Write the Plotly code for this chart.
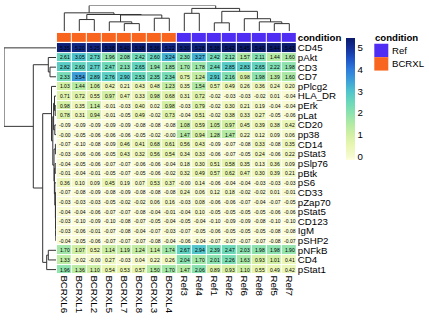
import plotly.graph_objects as go

W, H = 429, 327
FONT = "Liberation Sans, Arial, sans-serif"

samples = ["BCRXL6", "BCRXL1", "BCRXL2", "BCRXL5", "BCRXL7", "BCRXL8", "BCRXL3", "BCRXL4",
           "Ref3", "Ref4", "Ref1", "Ref2", "Ref6", "Ref8", "Ref5", "Ref7"]
condition = ["BCRXL"] * 8 + ["Ref"] * 8
cond_colors = {"Ref": "#502DF2", "BCRXL": "#F8651F"}

markers = ["CD45", "pAkt", "CD3", "CD7", "pPlcg2", "HLA_DR", "pErk", "pLat", "CD20", "pp38",
           "CD14", "pStat3", "pSlp76", "pBtk", "pS6", "CD33", "pZap70", "pStat5", "CD123",
           "IgM", "pSHP2", "pNFkB", "CD4", "pStat1"]

CD45 = [5.35, 5.20, 5.25, 5.38, 5.40, 5.38, 5.36, 5.22, 5.30, 5.28, 5.38, 5.42, 5.45, 5.40, 5.44, 5.43]
pAkt = [2.61, 3.05, 2.73, 1.96, 2.08, 2.42, 2.60, 3.24, 2.30, 3.27, 2.42, 2.12, 1.57, 2.11, 1.44, 1.60]
CD3 = [2.82, 2.60, 2.77, 2.47, 2.13, 2.65, 1.94, 1.85, 1.70, 1.78, 2.44, 2.85, 2.83, 2.65, 2.22, 1.98]
CD7 = [2.33, 3.54, 2.89, 2.76, 2.90, 2.53, 2.35, 2.34, 0.75, 1.24, 2.91, 2.16, 0.98, 1.98, 1.39, 1.60]
pPlcg2 = [1.03, 1.44, 1.06, 0.42, 0.21, 0.43, 0.48, 1.23, 0.35, 1.54, 0.57, 0.49, 0.26, 0.36, 0.24, 0.20]
HLA_DR = [0.71, 0.72, 0.55, 0.97, 0.47, 0.33, 0.98, 0.68, 0.31, 0.72, -0.02, -0.03, -0.03, -0.02, 0.01, -0.04]
pErk = [0.98, 0.35, 1.14, -0.01, -0.03, 0.40, 0.02, 0.98, -0.03, 0.79, -0.02, 0.30, 0.21, 0.19, -0.04, -0.04]
pLat = [0.78, 0.31, 0.94, -0.01, -0.05, 0.49, -0.02, 0.73, -0.04, 0.51, -0.02, 0.38, 0.33, 0.27, -0.05, -0.06]
CD20 = [-0.09, -0.09, -0.09, -0.09, -0.09, -0.08, -0.08, -0.08, 1.08, 0.59, 1.05, 0.97, 0.45, 0.39, 0.38, 0.42]
pp38 = [-0.0, -0.05, -0.06, -0.06, -0.06, -0.05, -0.02, -0.0, 1.47, 0.94, 1.28, 1.47, 0.22, 0.12, 0.09, 0.06]
CD14 = [-0.07, -0.10, -0.08, -0.09, 0.46, 0.41, 0.68, 0.61, 0.56, 0.43, -0.09, -0.07, -0.08, 0.33, -0.08, 0.35]
pStat3 = [-0.03, -0.06, -0.06, -0.05, 0.43, 0.32, 0.56, 0.54, 0.34, 0.33, -0.06, -0.07, -0.05, 0.24, -0.06, 0.22]
pSlp76 = [-0.04, -0.05, -0.06, -0.07, -0.07, -0.06, -0.06, -0.04, 0.18, 0.30, 0.51, 0.58, 0.35, 0.13, 0.36, 0.09]
pBtk = [-0.01, -0.04, -0.01, -0.05, -0.07, -0.05, -0.06, -0.02, 0.32, 0.49, 0.57, 0.62, 0.47, 0.30, 0.39, 0.21]
pS6 = [0.36, 0.10, 0.09, 0.45, 0.19, 0.07, 0.53, 0.37, -0.0, 0.14, -0.06, -0.04, -0.04, -0.03, -0.03, -0.03]
CD33 = [-0.07, -0.08, -0.09, -0.08, -0.09, -0.08, -0.08, -0.08, 0.24, 0.06, 0.12, 0.18, -0.02, -0.02, 0.01, -0.01]
pZap70 = [-0.03, -0.03, -0.03, -0.05, -0.02, -0.02, 0.06, 0.16, -0.03, 0.08, -0.06, -0.06, -0.07, -0.04, -0.07, -0.05]
pStat5 = [-0.04, -0.04, -0.06, -0.07, -0.07, -0.08, -0.04, -0.01, -0.04, 0.10, -0.05, -0.05, -0.05, -0.05, -0.06, -0.06]
CD123 = [-0.03, -0.10, -0.09, -0.10, -0.08, -0.07, -0.05, -0.04, -0.05, -0.04, -0.10, -0.09, -0.09, -0.08, -0.10, -0.10]
IgM = [-0.03, -0.06, -0.01, -0.07, -0.08, -0.04, -0.07, -0.03, -0.07, -0.05, -0.06, -0.05, -0.05, -0.05, -0.08, -0.08]
pSHP2 = [-0.04, -0.05, -0.06, -0.07, -0.07, -0.07, -0.08, -0.04, -0.06, -0.04, -0.07, -0.07, -0.07, -0.07, -0.08, -0.07]
pNFkB = [1.70, 1.07, 0.52, 1.14, 1.19, 1.24, 1.14, 1.74, 2.67, 2.94, 2.39, 2.47, 2.03, 1.98, 1.98, 1.90]
CD4 = [1.33, -0.02, -0.0, 0.27, -0.03, 0.04, 0.22, 0.26, 2.04, 1.70, 2.01, 2.26, 1.63, 0.93, 1.01, 0.41]
pStat1 = [1.96, 1.36, 1.10, 0.54, 0.53, 0.57, 1.50, 1.70, 1.47, 2.06, 0.89, 0.93, 1.10, 0.55, 0.49, 0.42]

rows = [CD45, pAkt, CD3, CD7, pPlcg2, HLA_DR, pErk, pLat, CD20, pp38, CD14, pStat3, pSlp76,
        pBtk, pS6, CD33, pZap70, pStat5, CD123, IgM, pSHP2, pNFkB, CD4, pStat1]

colorbar_ticks = [0, 1, 2, 3, 4, 5]

# dendrogram merges: (left, right, height, name)
col_merges = [
    ("BCRXL1", "BCRXL2", 24.0, "c1"),
    ("BCRXL7", "BCRXL8", 15.7, "c2"),
    ("BCRXL5", "c2", 19.3, "c3"),
    ("BCRXL3", "BCRXL4", 26.7, "c4"),
    ("c3", "c4", 33.3, "c5"),
    ("c1", "c5", 34.3, "c6"),
    ("BCRXL6", "c6", 37.7, "c7"),
    ("Ref3", "Ref4", 36.7, "r1"),
    ("Ref1", "Ref2", 17.3, "r2"),
    ("Ref5", "Ref7", 15.7, "r3"),
    ("Ref8", "r3", 19.3, "r4"),
    ("Ref6", "r4", 25.7, "r5"),
    ("r2", "r5", 40.7, "r6"),
    ("r1", "r6", 46.7, "r7"),
    ("c7", "r7", 52.7, "root"),
]
row_merges = [
    ("pErk", "pLat", 0.8, "m1"),
    ("HLA_DR", "m1", 1.5, "m2"),
    ("CD20", "pp38", 1.2, "m4"),
    ("m2", "m4", 2.4, "C"),
    ("CD14", "pStat3", 0.6, "m5"),
    ("pSlp76", "pBtk", 0.8, "m6"),
    ("IgM", "pSHP2", 0.2, "n1"),
    ("CD123", "n1", 0.3, "n2"),
    ("pZap70", "pStat5", 0.3, "n3"),
    ("n3", "n2", 0.45, "n4"),
    ("CD33", "n4", 0.6, "n5"),
    ("pS6", "n5", 1.2, "n6"),
    ("m6", "n6", 1.6, "E"),
    ("m5", "E", 2.0, "D"),
    ("C", "D", 3.2, "B"),
    ("pPlcg2", "B", 4.5, "mid"),
    ("pNFkB", "CD4", 7.7, "b1"),
    ("b1", "pStat1", 9.3, "bot"),
    ("mid", "bot", 13.3, "big"),
    ("CD3", "CD7", 6.0, "t1"),
    ("pAkt", "t1", 7.7, "tc"),
    ("tc", "big", 22.7, "rest"),
    ("CD45", "rest", 52.0, "root"),
]


def dendro_lines(leaves, merges):
    pos = {name: i for i, name in enumerate(leaves)}
    hgt = {name: 0.0 for name in leaves}
    p, h = [], []
    for a, b, hh, name in merges:
        p += [pos[a], pos[a], pos[b], pos[b], None]
        h += [hgt[a], hh, hh, hgt[b], None]
        pos[name] = (pos[a] + pos[b]) / 2
        hgt[name] = hh
    return p, h


# layout geometry (pixels)
hm_l, hm_r, hm_t, hm_b = 56.8, 296.8, 42.3, 275.1
bar_t, bar_b = 32.0, 41.2
cd_t, cd_b = 4.5, 30.5
rd_l, rd_r = 4.0, 56.0
cb_t, cb_b = 37.0, 159.5


def px(x):
    return x / W


def py(y):
    return (H - y) / H


colorscale = [
    [0.00, "#FFFFE0"],
    [0.027, "#F6FAD0"],
    [0.116, "#E9F6B3"],
    [0.205, "#D3F0A4"],
    [0.295, "#B2EAA4"],
    [0.384, "#8CE2AE"],
    [0.473, "#6BD8BA"],
    [0.563, "#4FC4CC"],
    [0.652, "#3D9FD8"],
    [0.741, "#2E7CDC"],
    [0.830, "#1F52C4"],
    [0.920, "#132E96"],
    [1.00, "#0A1A6C"],
]

text = [[f"{v:.2f}" for v in r] for r in rows]

fig = go.Figure()

fig.add_trace(go.Heatmap(
    z=rows, x=list(range(len(samples))), y=list(range(len(markers))),
    text=text, texttemplate="%{text}",
    textfont=dict(size=5, color="#000000", family=FONT),
    colorscale=colorscale, zmin=-0.15, zmax=5.45,
    xgap=1, ygap=1, hoverinfo="skip",
    xaxis="x", yaxis="y",
    colorbar=dict(
        x=px(346), xanchor="left", y=py(cb_t), yanchor="top",
        len=(cb_b - cb_t) / H, lenmode="fraction", thickness=9, thicknessmode="pixels",
        xpad=0, ypad=0, outlinewidth=0, tickvals=colorbar_ticks, ticks="",
        tickfont=dict(size=9.7, family=FONT, color="#000000"),
    ),
))

cond_z = [[1 if c == "BCRXL" else 0 for c in condition]]
fig.add_trace(go.Heatmap(
    z=cond_z, x=list(range(len(samples))), y=[0],
    colorscale=[[0, cond_colors["Ref"]], [0.5, cond_colors["Ref"]],
                [0.5, cond_colors["BCRXL"]], [1, cond_colors["BCRXL"]]],
    zmin=0, zmax=1, showscale=False, xgap=1, hoverinfo="skip",
    xaxis="x2", yaxis="y2",
))

cx, cy = dendro_lines(samples, col_merges)
fig.add_trace(go.Scatter(x=cx, y=cy, mode="lines", line=dict(color="#333333", width=1),
                         hoverinfo="skip", showlegend=False, xaxis="x3", yaxis="y3"))

ry, rx = dendro_lines(markers, row_merges)
fig.add_trace(go.Scatter(x=rx, y=ry, mode="lines", line=dict(color="#333333", width=1),
                         hoverinfo="skip", showlegend=False, xaxis="x4", yaxis="y4"))

hidden = dict(showgrid=False, zeroline=False, showticklabels=False, ticks="", showline=False)

fig.update_layout(
    width=W, height=H, margin=dict(l=0, r=0, t=0, b=0),
    paper_bgcolor="white", plot_bgcolor="white", showlegend=False,
    font=dict(family=FONT, color="#000000"),
    xaxis=dict(domain=[px(hm_l), px(hm_r)], range=[-0.5, 15.5], anchor="y",
               tickvals=list(range(len(samples))), ticktext=samples, tickangle=90,
               ticks="", showgrid=False, zeroline=False, tickfont=dict(size=9.7)),
    yaxis=dict(domain=[py(hm_b), py(hm_t)], range=[len(markers) - 0.5, -0.5], anchor="x",
               side="right", tickvals=list(range(len(markers))), ticktext=markers,
               ticks="", showgrid=False, zeroline=False, tickfont=dict(size=9.7)),
    xaxis2=dict(domain=[px(hm_l), px(hm_r)], range=[-0.5, 15.5], anchor="y2", **hidden),
    yaxis2=dict(domain=[py(bar_b), py(bar_t)], range=[-0.5, 0.5], anchor="x2", side="right",
                tickvals=[0], ticktext=["<b>condition</b>"], ticks="", showgrid=False,
                zeroline=False, tickfont=dict(size=9.7)),
    xaxis3=dict(domain=[px(hm_l), px(hm_r)], range=[-0.5, 15.5], anchor="y3", **hidden),
    yaxis3=dict(domain=[py(cd_b), py(cd_t)], range=[0, 52.7], anchor="x3", **hidden),
    xaxis4=dict(domain=[px(rd_l), px(rd_r)], range=[52.0, 0], anchor="y4", **hidden),
    yaxis4=dict(domain=[py(hm_b), py(hm_t)], range=[len(markers) - 0.5, -0.5], anchor="x4", **hidden),
)

# condition legend
fig.add_annotation(x=px(374.0), y=py(37), xref="paper", yref="paper", xanchor="left",
                   yanchor="middle", text="<b>condition</b>", showarrow=False, borderpad=0,
                   font=dict(size=9.6, family=FONT, color="#000000"))
legend_items = ["Ref", "BCRXL"]
for i, name in enumerate(legend_items):
    y0 = 43 + i * 13.5
    fig.add_shape(type="rect", xref="paper", yref="paper",
                  x0=px(374.3), x1=px(388.3), y0=py(y0 + 13.5), y1=py(y0),
                  fillcolor=cond_colors[name], line=dict(width=0))
    fig.add_annotation(x=px(391.0), y=py(y0 + 6.8), xref="paper", yref="paper",
                       xanchor="left", yanchor="middle", text=name, showarrow=False,
                       borderpad=0, font=dict(size=9.6, family=FONT, color="#000000"))

fig.write_html(
    "out.html",
    config={"displayModeBar": False, "staticPlot": True},
    post_script="document.body.style.margin='0';"
                "document.documentElement.style.overflow='hidden';"
                "document.body.style.overflow='hidden';",
)
